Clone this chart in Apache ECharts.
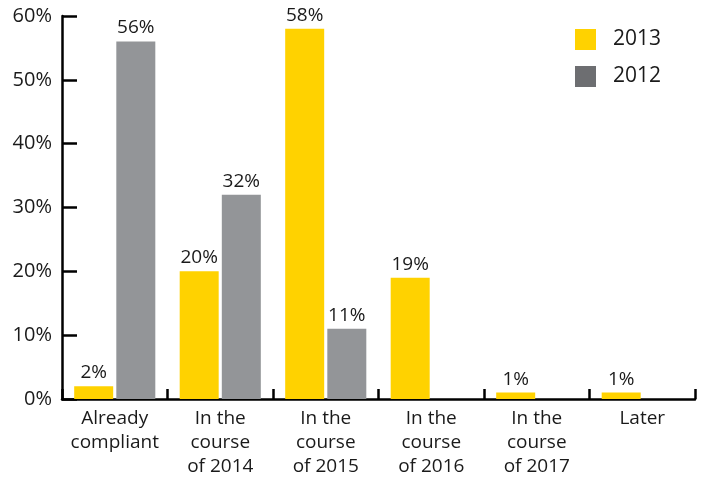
<!DOCTYPE html>
<html><head><meta charset="utf-8">
<script src="https://cdn.jsdelivr.net/npm/echarts@6/dist/echarts.min.js"></script>
<style>html,body{margin:0;padding:0;background:#fff}#c{width:704px;height:479px}</style>
</head><body><div id="c"></div>
<script>
const categories = ["Already\ncompliant", "In the\ncourse\nof 2014", "In the\ncourse\nof 2015", "In the\ncourse\nof 2016", "In the\ncourse\nof 2017", "Later"];
const values2013 = [2, 20, 58, 19, 1, 1];
const values2012 = [56, 32, 11, null, null, null];
const seriesNames = ["2013", "2012"];
const yTicks = [0, 10, 20, 30, 40, 50, 60];

const font = "'Open Sans', 'DejaVu Sans', sans-serif";
const chart = echarts.init(document.getElementById('c'), null, {renderer: 'canvas'});
const lbl = {show: true, position: 'top', distance: 4, color: '#1a1a1a', fontSize: 19, fontFamily: font, formatter: p => p.value + '%'};
chart.setOption({
  animation: false,
  grid: {left: 62, right: 9, top: 16, bottom: 79, containLabel: false},
  legend: {
    left: 570, top: 24, orient: 'vertical', itemWidth: 21, itemHeight: 21, itemGap: 16,
    textStyle: {fontSize: 21, lineHeight: 21, fontFamily: font, color: '#1a1a1a', padding: [0, 0, 0, 12]},
    icon: 'rect',
    data: [{name: seriesNames[0], itemStyle: {color: '#ffd200'}}, {name: seriesNames[1], itemStyle: {color: '#6d6e71'}}]
  },
  xAxis: {
    type: 'category', data: categories,
    axisLine: {lineStyle: {color: '#000', width: 2.5}},
    axisTick: {show: true, interval: 0, inside: true, length: 10, lineStyle: {color: '#000', width: 2.5}},
    axisLabel: {interval: 0, fontSize: 19, fontFamily: font, color: '#1a1a1a', lineHeight: 24, margin: 8}
  },
  yAxis: {
    type: 'value', min: 0, max: 60, interval: 10,
    splitLine: {show: false},
    axisLine: {show: true, lineStyle: {color: '#000', width: 2.5}},
    axisTick: {show: true, inside: true, length: 15, lineStyle: {color: '#000', width: 2.5}},
    axisLabel: {fontSize: 20, fontFamily: font, color: '#1a1a1a', margin: 10, padding: [12, 0, 0, 0],
      formatter: v => yTicks.includes(v) ? v + '%' : ''}
  },
  series: [
    {name: seriesNames[0], type: 'bar', data: values2013, barWidth: 39, barGap: '8%', itemStyle: {color: '#ffd200'}, label: lbl},
    {name: seriesNames[1], type: 'bar', data: values2012, barWidth: 39, barGap: '8%', itemStyle: {color: '#939598'}, label: lbl}
  ]
});
</script></body></html>
